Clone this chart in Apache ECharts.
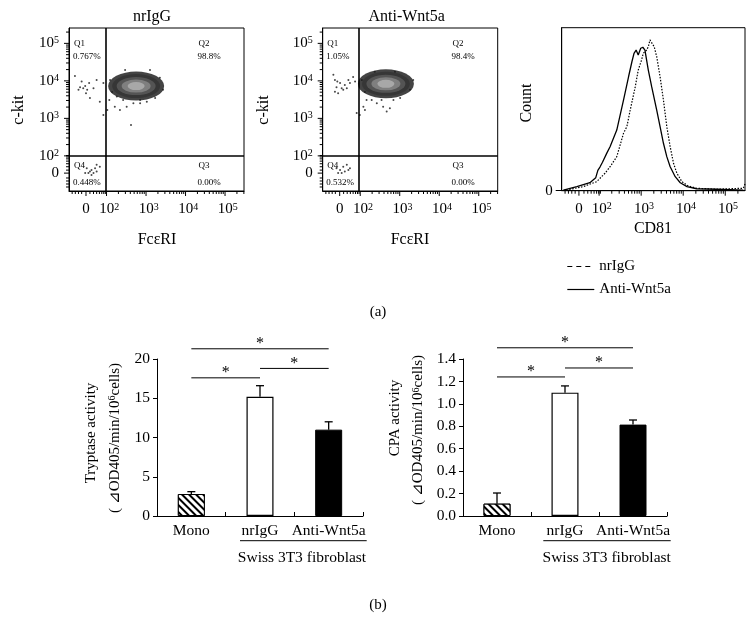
<!DOCTYPE html>
<html><head><meta charset="utf-8">
<script src="https://cdn.jsdelivr.net/npm/echarts@6/dist/echarts.min.js"></script>
<style>html,body{margin:0;padding:0;background:#fff}#c{width:756px;height:618px}</style>
</head><body><div id="c"></div>
<script>
// ================= DATA =================
// Bar charts (b)
const barCategories = ['Mono', 'nrIgG', 'Anti-Wnt5a'];
const tryptaseMean = [2.8, 15.2, 11.0];
const tryptaseErrTop = [3.1, 16.6, 12.0];
const cpaMean = [0.11, 1.10, 0.815];
const cpaErrTop = [0.205, 1.16, 0.856];
// significance brackets: [fromCategory, toCategory, level]
const tryptaseSig = [[0, 2, 21.3], [0, 1, 17.6], [1, 2, 18.8]];
const cpaSig = [[0, 2, 1.50], [0, 1, 1.24], [1, 2, 1.32]];
const tryptaseTicks = [0, 5, 10, 15, 20];
const cpaTicks = [0, 0.2, 0.4, 0.6, 0.8, 1.0, 1.2, 1.4];

// Flow plots (a): values in display decades (log10 units, biexponential near 0)
const flowTickLabels = ['0', '10^2', '10^3', '10^4', '10^5'];
const flowXTickPos = [1.48, 2, 3, 4, 5];
const flowYTickPos = [1.54, 2, 3, 4, 5];
const nrIgGGate = [1.99, 2.0];
const antiGate = [1.96, 2.0];
const nrIgGQuadrants = ['0.767%', '98.8%', '0.00%', '0.448%']; // Q1,Q2,Q3,Q4
const antiQuadrants = ['1.05%', '98.4%', '0.00%', '0.532%'];
const nrIgGCluster = [2.75, 3.86];
const antiCluster = [2.65, 3.92];
const nrIgGEvents = [
  [1.20,4.13],[1.33,3.83],[1.41,3.80],[1.46,3.86],[1.51,3.76],[1.56,3.94],[1.37,3.98],[1.29,3.76],
  [1.48,3.67],[1.58,3.54],[1.75,4.02],[1.83,3.44],[1.67,3.80],[1.92,3.94],
  [1.92,3.09],[2.02,3.22],[2.07,3.49],[2.21,3.31],[2.34,3.22],[2.51,3.31],[2.62,2.82],[2.42,3.49],
  [2.68,3.40],[2.85,3.40],[3.02,3.44],[2.26,3.58],
  [2.09,4.02],[2.14,3.70],[3.35,4.08],[3.43,3.76],[3.10,4.29],[2.47,4.29],[2.85,3.49],[3.23,3.54],
  [1.50,1.67],[1.58,1.58],[1.62,1.62],[1.67,1.54],[1.54,1.54],[1.75,1.76],[1.71,1.67],[1.46,1.54],
  [1.83,1.71],[1.62,1.49],[1.75,1.58]
];
const antiEvents = [
  [1.32,4.16],[1.36,4.02],[1.42,3.98],[1.49,3.94],[1.40,3.83],[1.53,3.80],[1.61,3.89],[1.70,4.02],
  [1.74,3.94],[1.57,3.76],[1.44,3.67],[1.66,3.80],[1.82,4.10],[1.87,3.98],[1.36,3.71],
  [1.91,3.14],[1.99,3.09],[2.08,3.31],[2.16,3.49],[2.12,3.22],[2.29,3.49],[2.42,3.40],[2.58,3.31],
  [2.67,3.18],[2.75,3.27],[2.84,3.49],[2.54,3.49],
  [2.04,4.02],[2.12,3.70],[3.34,4.02],[3.26,3.76],[2.88,4.24],[2.37,4.24],[3.01,3.54],
  [1.40,1.67],[1.49,1.62],[1.57,1.71],[1.66,1.76],[1.53,1.54],[1.44,1.54],[1.61,1.58],[1.70,1.62],[1.74,1.67]
];

// Histogram CD81 (count, % of axis height)
const histXTickPos = [1.52, 2, 3, 4, 5];
const cd81NrIgG = [
  [1.15,0],[1.62,2.5],[1.94,5.5],[2.14,10.7],[2.26,14.7],[2.42,20.9],[2.58,35.2],[2.66,39.3],[2.74,49.5],
  [2.86,63.8],[2.93,74.0],[3.01,80.2],[3.05,84.3],[3.13,86.3],[3.17,88.3],[3.21,92.5],[3.25,91.4],
  [3.31,88.3],[3.37,82.2],[3.45,69.9],[3.53,55.6],[3.61,39.3],[3.69,27.0],[3.77,16.8],[3.85,10.7],
  [3.97,5.5],[4.12,2.9],[4.32,1.5],[4.80,0.9],[5.43,1.5],[5.47,4.1]
];
const cd81Anti = [
  [1.15,0.4],[1.47,2.5],[1.78,4.9],[1.92,8.0],[1.97,12.5],[2.02,14.5],[2.08,17.5],[2.18,22.9],[2.26,27.0],[2.42,37.2],
  [2.58,55.6],[2.70,69.9],[2.78,79.1],[2.83,84.3],[2.88,86.3],[2.93,83.3],[2.99,87.4],[3.04,88.0],
  [3.09,86.3],[3.17,74.0],[3.25,63.8],[3.37,49.5],[3.45,39.3],[3.53,29.1],[3.61,20.9],[3.69,14.7],
  [3.81,8.6],[3.93,4.9],[4.09,2.5],[4.32,1.2],[4.80,0.9],[5.43,0.4]
];

// ================= CHART =================
const SERIF = "'Liberation Serif','Times New Roman',serif";
const BLACK = '#000';

const FX = [1.05, 5.48], FY = [1.063, 5.41];   // flow axes ranges
const HX = [1.11, 5.47], HY = [0, 100];        // histogram ranges

function decadeTicks(lo, hi, zeroPos, linear) {
  const t = [[zeroPos, 1]];
  linear.forEach(u => t.push([u, 0]));
  for (let n = 2; n <= 5; n++) for (let k = 1; k <= 9; k++) {
    const u = n + Math.log10(k);
    if (u >= lo && u <= hi) t.push([u, k === 1 ? 1 : 0]);
  }
  return t;
}
const linTicks = [1.13, 1.21, 1.29, 1.37, 1.58, 1.67, 1.75, 1.82, 1.88, 1.93, 1.97];

function tickSeries(idx, dir, ticks, fixed) {
  return {
    type: 'custom', xAxisIndex: idx, yAxisIndex: idx, silent: true, clip: false, z: 5,
    data: ticks,
    renderItem: (p, api) => {
      const u = api.value(0), len = api.value(1) ? 5 : 3;
      if (dir === 'x') {
        const c = api.coord([u, fixed]);
        return {type: 'line', shape: {x1: c[0], y1: c[1], x2: c[0], y2: c[1] + len}, style: {stroke: BLACK, lineWidth: 1}};
      }
      const c = api.coord([fixed, u]);
      return {type: 'line', shape: {x1: c[0] - len, y1: c[1], x2: c[0], y2: c[1]}, style: {stroke: BLACK, lineWidth: 1}};
    }
  };
}

const powRich = {
  b: {fontFamily: SERIF, fontSize: 15, color: BLACK},
  s: {fontFamily: SERIF, fontSize: 10, color: BLACK, verticalAlign: 'top'},
  p: {width: 5.5}
};
function powFormatter(positions, padLeft) {
  return (v) => {
    let i = 0, best = 1e9;
    positions.forEach((q, j) => { if (Math.abs(q - v) < best) { best = Math.abs(q - v); i = j; } });
    const t = flowTickLabels[i];
    if (t.indexOf('^') < 0) return '{b|' + t + '}';
    const [base, ex] = t.split('^');
    return (padLeft ? '{p|}' : '') + '{b|' + base + '}{s|' + ex + '}';
  };
}

function flowAxes(idx, left) {
  return {
    grid: {left: left, top: 28, width: 175, height: 163, show: true, borderColor: BLACK, borderWidth: 1},
    x: {gridIndex: idx, type: 'value', min: FX[0], max: FX[1], splitLine: {show: false},
        axisLine: {lineStyle: {color: BLACK, width: 1}}, axisTick: {show: false},
        axisLabel: {customValues: flowXTickPos, formatter: powFormatter(flowXTickPos, true), rich: powRich, margin: 11}},
    y: {gridIndex: idx, type: 'value', min: FY[0], max: FY[1], splitLine: {show: false},
        axisLine: {lineStyle: {color: BLACK, width: 1}}, axisTick: {show: false},
        axisLabel: {customValues: flowYTickPos, formatter: powFormatter(flowYTickPos, false), rich: powRich, margin: 10}}
  };
}
const f0 = flowAxes(0, 69), f1 = flowAxes(1, 322.7);

function flowSeries(idx, events, cluster, gate) {
  const layers = [
    {size: [56, 29], color: '#151515'},
    {size: [48, 24], color: '#333'},
    {size: [39, 18], color: '#5c5c5c'},
    {size: [29, 13], color: '#8a8a8a'},
    {size: [17, 8], color: '#b3b3b3'}
  ];
  return [
    {type: 'scatter', xAxisIndex: idx, yAxisIndex: idx, silent: true, z: 3,
     data: layers.map(l => ({value: cluster, symbolSize: l.size, itemStyle: {color: l.color}}))},
    {type: 'scatter', xAxisIndex: idx, yAxisIndex: idx, silent: true, z: 4, symbolSize: 2,
     itemStyle: {color: '#1a1a1a'}, data: events,
     markLine: {silent: true, symbol: 'none', label: {show: false}, animation: false,
                lineStyle: {color: BLACK, width: 1.6, type: 'solid'},
                data: [{xAxis: gate[0]}, {yAxis: gate[1]}]}},
    tickSeries(idx, 'x', decadeTicks(FX[0], FX[1], flowXTickPos[0], linTicks), FY[0]),
    tickSeries(idx, 'y', decadeTicks(FY[0], FY[1], flowYTickPos[0], linTicks.map(v => v + 0.04)), FX[0])
  ];
}

const hatch = {symbol: 'rect', symbolSize: 1, dashArrayX: [1, 0], dashArrayY: [1.2, 2.3], rotation: Math.PI / 4, color: BLACK, backgroundColor: '#fff'};
const barStyles = [
  {color: '#fff', borderColor: BLACK, borderWidth: 1, decal: hatch},
  {color: '#fff', borderColor: BLACK, borderWidth: 1.2},
  {color: BLACK, borderColor: BLACK, borderWidth: 1}
];

function barAxes(idx, max, interval, decimals) {
  return {
    x: {gridIndex: idx, type: 'category', data: barCategories,
        axisLine: {lineStyle: {color: BLACK, width: 1}},
        axisTick: {show: true, inside: true, length: 4, lineStyle: {color: BLACK}},
        axisLabel: {interval: 0, hideOverlap: false, fontFamily: SERIF, fontSize: 15.5, color: BLACK, margin: 7}},
    y: {gridIndex: idx, type: 'value', min: 0, max: max, interval: interval, splitLine: {show: false},
        axisLine: {show: true, lineStyle: {color: BLACK, width: 1}},
        axisTick: {show: true, length: 4, lineStyle: {color: BLACK}},
        axisLabel: {fontFamily: SERIF, fontSize: 15.5, color: BLACK, margin: 7,
                    formatter: v => v.toFixed(decimals)}}
  };
}
const b0 = barAxes(3, tryptaseTicks[tryptaseTicks.length - 1], tryptaseTicks[1] - tryptaseTicks[0], 0);
const b1 = barAxes(4, cpaTicks[cpaTicks.length - 1], cpaTicks[1] - cpaTicks[0], 1);

function barSeries(idx, mean, errTop, sig) {
  return [
    {type: 'bar', xAxisIndex: idx, yAxisIndex: idx, barWidth: 27, silent: true, z: 3,
     data: mean.map((v, i) => ({value: v, itemStyle: barStyles[i]}))},
    {type: 'custom', xAxisIndex: idx, yAxisIndex: idx, silent: true, z: 2,
     data: mean.map((v, i) => [i, v, errTop[i]]),
     renderItem: (p, api) => {
       const a = api.coord([api.value(0), api.value(1)]), b = api.coord([api.value(0), api.value(2)]);
       return {type: 'group', children: [
         {type: 'line', shape: {x1: a[0], y1: a[1], x2: b[0], y2: b[1]}, style: {stroke: BLACK, lineWidth: 1.3}},
         {type: 'line', shape: {x1: b[0] - 4, y1: b[1], x2: b[0] + 4, y2: b[1]}, style: {stroke: BLACK, lineWidth: 1.3}}
       ]};
     }},
    {type: 'custom', xAxisIndex: idx, yAxisIndex: idx, silent: true, clip: false, z: 4,
     data: sig,
     renderItem: (p, api) => {
       const a = api.coord([api.value(0), api.value(2)]), b = api.coord([api.value(1), api.value(2)]);
       return {type: 'group', children: [
         {type: 'line', shape: {x1: a[0], y1: a[1], x2: b[0], y2: b[1]}, style: {stroke: BLACK, lineWidth: 1}},
         {type: 'text', x: (a[0] + b[0]) / 2, y: a[1] + 3,
          style: {text: '*', fontFamily: SERIF, fontSize: 16, fill: BLACK, align: 'center', textAlign: 'center',
                  verticalAlign: 'bottom', textVerticalAlign: 'bottom'}}
       ]};
     }}
  ];
}

function txt(x, y, text, size, opts) {
  opts = opts || {};
  return {type: 'text', x: x, y: y, rotation: opts.rot || 0, silent: true, z: 10,
    style: {text: text, fontFamily: SERIF, fontSize: size, fill: BLACK, rich: opts.rich,
            align: opts.align || 'center', textAlign: opts.align || 'center',
            verticalAlign: 'middle', textVerticalAlign: 'middle', lineHeight: opts.lh}};
}
function quadTexts(x0, x1, q) {
  const s = 9;
  return [
    txt(x0, 43.5, 'Q1', s, {align: 'left'}), txt(x0 - 1, 57, q[0], s, {align: 'left'}),
    txt(x1, 43.5, 'Q2', s, {align: 'left'}), txt(x1 - 1, 57, q[1], s, {align: 'left'}),
    txt(x0, 166, 'Q4', s, {align: 'left'}), txt(x0 - 1, 183, q[3], s, {align: 'left'}),
    txt(x1, 166, 'Q3', s, {align: 'left'}), txt(x1 - 1, 183, q[2], s, {align: 'left'})
  ];
}
const yRich = {n: {fontFamily: SERIF, fontSize: 15, color: BLACK}, s: {fontFamily: SERIF, fontSize: 10, color: BLACK, verticalAlign: 'top'}};

const option = {
  animation: false,
  backgroundColor: '#fff',
  textStyle: {fontFamily: SERIF},
  grid: [f0.grid, f1.grid,
    {left: 561.7, top: 27.7, width: 183.3, height: 163, show: true, borderColor: BLACK, borderWidth: 1},
    {left: 157, top: 359, width: 206, height: 157},
    {left: 463, top: 359, width: 204, height: 157}],
  xAxis: [f0.x, f1.x,
    {gridIndex: 2, type: 'value', min: HX[0], max: HX[1], splitLine: {show: false},
     axisLine: {lineStyle: {color: BLACK}}, axisTick: {show: false},
     axisLabel: {customValues: histXTickPos, formatter: powFormatter(histXTickPos, true), rich: powRich, margin: 11}},
    b0.x, b1.x],
  yAxis: [f0.y, f1.y,
    {gridIndex: 2, type: 'value', min: HY[0], max: HY[1], splitLine: {show: false},
     axisLine: {lineStyle: {color: BLACK}}, axisTick: {show: true, customValues: [0], length: 6, lineStyle: {color: BLACK}},
     axisLabel: {customValues: [0], formatter: '0', fontFamily: SERIF, fontSize: 15, color: BLACK, margin: 9}},
    b0.y, b1.y],
  legend: {
    left: 561.7, top: 254, orient: 'vertical', itemWidth: 27, itemHeight: 14, itemGap: 8,
    itemStyle: {opacity: 0},
    textStyle: {fontFamily: SERIF, fontSize: 15, color: BLACK},
    data: [{name: 'nrIgG', lineStyle: {type: [5, 4], width: 1.2}}, {name: 'Anti-Wnt5a', lineStyle: {width: 1.2}}],
    selectedMode: false
  },
  series: [
    ...flowSeries(0, nrIgGEvents, nrIgGCluster, nrIgGGate),
    ...flowSeries(1, antiEvents, antiCluster, antiGate),
    {name: 'nrIgG', type: 'line', xAxisIndex: 2, yAxisIndex: 2, symbol: 'none', silent: true,
     lineStyle: {color: BLACK, width: 1.2, type: [1.5, 1.5]}, itemStyle: {color: BLACK}, data: cd81NrIgG},
    {name: 'Anti-Wnt5a', type: 'line', xAxisIndex: 2, yAxisIndex: 2, symbol: 'none', silent: true,
     lineStyle: {color: BLACK, width: 1.3, type: 'solid'}, itemStyle: {color: BLACK}, data: cd81Anti},
    tickSeries(2, 'x', decadeTicks(HX[0], HX[1], histXTickPos[0], linTicks.map(v => v + 0.06)), HY[0]),
    ...barSeries(3, tryptaseMean, tryptaseErrTop, tryptaseSig),
    ...barSeries(4, cpaMean, cpaErrTop, cpaSig)
  ],
  graphic: [
    txt(152, 17, 'nrIgG', 16), txt(406.7, 17, 'Anti-Wnt5a', 16),
    txt(157, 240, 'FcεRI', 16), txt(410, 240, 'FcεRI', 16),
    txt(18.5, 110, 'c-kit', 16, {rot: Math.PI / 2}), txt(263.5, 110, 'c-kit', 16, {rot: Math.PI / 2}),
    txt(527, 103, 'Count', 16, {rot: Math.PI / 2}), txt(653, 229, 'CD81', 16),
    ...quadTexts(74, 198.5, nrIgGQuadrants), ...quadTexts(327.3, 452.5, antiQuadrants),
    txt(378, 312, '(a)', 15), txt(378, 605, '(b)', 15),
    txt(91.5, 433, 'Tryptase activity', 15, {rot: Math.PI / 2}),
    txt(115, 438, '{n|( ⊿OD405/min/10}{s|6}{n|cells)}', 15, {rot: Math.PI / 2, rich: yRich}),
    txt(395, 418, 'CPA activity', 15, {rot: Math.PI / 2}),
    txt(418.5, 430, '{n|( ⊿OD405/min/10}{s|6}{n|cells)}', 15, {rot: Math.PI / 2, rich: yRich}),
    {type: 'line', silent: true, shape: {x1: 240, y1: 540.7, x2: 366.7, y2: 540.7}, style: {stroke: BLACK, lineWidth: 1}},
    {type: 'line', silent: true, shape: {x1: 543.3, y1: 540.7, x2: 670.7, y2: 540.7}, style: {stroke: BLACK, lineWidth: 1}},
    txt(302, 558.3, 'Swiss 3T3 fibroblast', 15.5), txt(606.7, 558.3, 'Swiss 3T3 fibroblast', 15.5)
  ]
};

const chart = echarts.init(document.getElementById('c'), null, {renderer: 'canvas'});
chart.setOption(option);
</script>
</body></html>
